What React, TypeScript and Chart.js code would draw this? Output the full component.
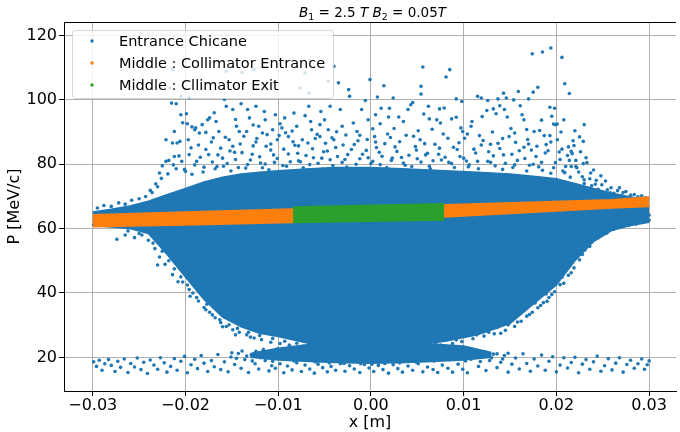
import React, { useEffect, useRef } from 'react';
import { Chart, registerables } from 'chart.js';

Chart.register(...registerables);

const FONT = "'DejaVu Sans', 'Liberation Sans', sans-serif";
const BLUE = '#1f77b4';
const ORANGE = '#ff7f0e';
const GREEN = '#2ca02c';

const seriesNames = ['Entrance Chicane', 'Middle : Collimator Entrance', 'Middle : Cllimator Exit'];
const seriesColors = [BLUE, ORANGE, GREEN];
const xTicks = [-0.03, -0.02, -0.01, 0, 0.01, 0.02, 0.03];
const yTicks = [20, 40, 60, 80, 100, 120];
const xLabel = 'x [m]';
const yLabel = 'P [MeV/c]';
// title pieces: text, style (i = italic math, s = subscript, n = normal)
const titleParts: [string, string][] = [
  ['B', 'i'], ['1', 's'], [' = 2.5 ', 'n'], ['T', 'i'], [' ', 'n'],
  ['B', 'i'], ['2', 's'], [' = 0.05', 'n'], ['T', 'i'],
];

// Entrance Chicane: dense core (upper / lower envelope of the solid cloud)
const coreX = [-0.030, -0.028, -0.026, -0.024, -0.022, -0.020, -0.018, -0.016, -0.014, -0.012, -0.010, -0.007, -0.004, 0.000, 0.004, 0.008, 0.0115, 0.015, 0.0175, 0.020, 0.022, 0.024, 0.026, 0.028, 0.030];
const coreTop = [65.2, 66.0, 67.0, 68.5, 70.5, 72.5, 74.5, 76.0, 77.0, 77.5, 78.0, 78.5, 79.0, 79.0, 78.5, 78.0, 77.5, 77.0, 76.3, 75.5, 74.0, 72.5, 71.0, 69.8, 69.0];
const coreBottom = [61.0, 60.5, 60.0, 58.5, 52.0, 45.0, 38.0, 32.5, 29.5, 27.5, 26.5, 24.5, 23.0, 22.5, 23.5, 25.0, 27.0, 30.5, 36.5, 42.5, 50.0, 56.0, 59.5, 61.0, 62.0];

// Entrance Chicane: dense part of the low-momentum band
const lowX = [-0.013, -0.010, -0.006, -0.003, 0, 0.003, 0.006, 0.010, 0.013];
const lowTop = [21.2, 22.8, 24.2, 23.8, 23.5, 23.8, 24.2, 23.5, 21.5];
const lowBottom = [20.0, 19.2, 18.6, 18.3, 18.2, 18.3, 18.6, 19.2, 20.0];

// Entrance Chicane: sparse points above the core
const chicaneHigh: [number, number][] = [
  [-0.0214, 109.4], [-0.0217, 103.7], [-0.0205, 101.1], [-0.0196, 100.6], [-0.0156, 108.9], [-0.0139, 108.6], [-0.0126, 109.4], [-0.0076, 103.7], [-0.0067, 102.1], [-0.0046, 105.8], [-0.0040, 110.4], [-0.0035, 105.3], [-0.0071, 108.4],
  [-0.0215, 99.0], [-0.0210, 98.8], [-0.0221, 87.6], [-0.0214, 86.6], [-0.0205, 95.4], [-0.0199, 95.7], [-0.0198, 92.6], [-0.0193, 91.6], [-0.0189, 91.3], [-0.0185, 89.7], [-0.0174, 94.4], [-0.0167, 93.3], [-0.0164, 90.2], [-0.0158, 100.1], [-0.0156, 98.0], [-0.0149, 97.0], [-0.0140, 98.8], [-0.0133, 97.0], [-0.0134, 90.2], [-0.0124, 98.0], [-0.0115, 96.4], [-0.0114, 93.8], [-0.0103, 95.4], [-0.0093, 94.4], [-0.0083, 95.9], [-0.0067, 98.0], [-0.0054, 96.4], [-0.0044, 98.0], [-0.0065, 93.3], [-0.0055, 88.6],
  [-0.0001, 106.3], [-0.0024, 103.2], [-0.0023, 101.1], [-0.0006, 99.8],
  [-0.0212, 90.2], [-0.0209, 86.6], [-0.0206, 87.1], [-0.0197, 87.6], [-0.0190, 90.7], [-0.0182, 92.3], [-0.0176, 93.8], [-0.0162, 85.0], [-0.0153, 87.6], [-0.0145, 91.8], [-0.0142, 90.2], [-0.0131, 94.4], [-0.0121, 91.8], [-0.0117, 89.7], [-0.0112, 89.2], [-0.0106, 90.7], [-0.0101, 87.6], [-0.0096, 91.3], [-0.0089, 88.6], [-0.0080, 91.8], [-0.0074, 87.6], [-0.0064, 90.7], [-0.0055, 92.3], [-0.0046, 90.7], [-0.0040, 87.6], [-0.0033, 97.0], [-0.0031, 91.8], [-0.0019, 92.8], [-0.0010, 97.0], [-0.0003, 93.8],
  [0.0014, 104.4], [0.0007, 100.9], [0.0024, 100.6], [0.0056, 110.2], [0.0054, 104.2], [0.0054, 101.8], [0.0081, 107.1], [0.0085, 109.4], [0.0092, 100.3], [0.0098, 99.5], [0.0115, 101.1], [0.0119, 100.6], [0.0126, 99.8], [0.0137, 100.3], [0.0143, 102.1], [0.0146, 100.6], [0.0154, 100.0], [0.0159, 102.6], [0.0170, 100.3], [0.0175, 102.4], [0.0180, 103.9], [0.0174, 114.3], [0.0185, 114.9], [0.0194, 116.1], [0.0206, 113.2], [0.0209, 105.0], [0.0214, 102.0], [0.0193, 97.7], [0.0198, 97.4], [0.0199, 92.3], [0.0208, 93.8], [0.0230, 92.3], [0.0220, 90.4], [0.0216, 84.0], [0.0221, 81.2],
  [0.0002, 91.0], [0.0004, 88.6], [0.0011, 97.4], [0.0020, 97.4], [0.0005, 95.4], [0.0019, 94.7], [0.0030, 94.7], [0.0040, 97.0], [0.0045, 99.2], [0.0043, 98.5], [0.0062, 98.0], [0.0074, 97.2], [0.0079, 97.5], [0.0063, 94.1], [0.0071, 93.8], [0.0075, 92.8], [0.0066, 90.9], [0.0092, 94.6], [0.0097, 91.3], [0.0099, 90.2], [0.0109, 93.3], [0.0108, 91.8], [0.0125, 96.7], [0.0132, 97.2], [0.0135, 95.7], [0.0139, 98.2], [0.0144, 97.0], [0.0147, 94.7], [0.0151, 91.1], [0.0161, 98.2], [0.0163, 95.4], [0.0165, 93.8], [0.0170, 86.3], [0.0176, 90.2], [0.0182, 90.5], [0.0187, 88.9], [0.0195, 94.9], [0.0197, 92.5], [0.0201, 92.5], [0.0201, 87.6], [0.0193, 88.9], [0.0213, 85.4], [0.0225, 88.5], [0.0229, 87.1], [0.0221, 79.3], [0.0216, 79.3],
  [-0.0238, 71.9], [-0.0232, 73.9], [-0.0221, 80.9], [-0.0212, 82.4], [-0.0228, 77.3],
  [-0.0203, 92.9], [-0.0178, 89.9], [-0.0169, 96.0], [-0.0146, 93.9], [-0.0127, 92.2], [-0.0098, 92.6], [-0.0085, 90.3], [-0.0071, 95.1], [-0.0050, 93.8], [-0.0037, 90.1], [-0.0012, 89.0], [0.0010, 92.6], [0.0025, 91.1], [0.0035, 93.3], [0.0051, 90.4], [0.0057, 95.6], [0.0087, 94.1], [0.0104, 89.4], [0.0120, 94.8], [0.0131, 90.0], [0.0155, 89.7], [0.0168, 90.8], [0.0184, 93.7], [0.0205, 90.0], [0.0218, 87.3],
];

// Entrance Chicane: moderately dense points just above the core
const chicaneMid: [number, number][] = [
  [-0.0225, 79.5], [-0.0218, 81.2], [-0.0210, 78.6], [-0.0204, 80.9], [-0.0196, 83.0], [-0.0190, 79.8], [-0.0184, 82.2], [-0.0178, 84.6], [-0.0171, 80.7], [-0.0165, 82.9], [-0.0159, 79.4], [-0.0152, 84.1], [-0.0146, 81.5], [-0.0139, 83.6], [-0.0133, 79.9], [-0.0127, 85.7], [-0.0120, 82.3], [-0.0114, 80.1], [-0.0108, 84.4], [-0.0101, 81.8], [-0.0095, 79.6], [-0.0089, 83.2], [-0.0082, 85.9], [-0.0076, 80.8], [-0.0070, 82.7], [-0.0063, 84.8], [-0.0057, 80.3], [-0.0051, 83.9], [-0.0044, 81.4], [-0.0038, 85.2], [-0.0031, 80.6], [-0.0025, 83.0], [-0.0018, 86.1], [-0.0012, 81.7], [-0.0005, 84.3], [0.0002, 80.9], [0.0009, 83.7], [0.0015, 86.4], [0.0022, 81.2], [0.0028, 84.0], [0.0035, 80.4], [0.0041, 82.8], [0.0048, 85.5], [0.0054, 80.7], [0.0061, 83.4], [0.0067, 81.1], [0.0074, 85.0], [0.0080, 82.2], [0.0087, 80.2], [0.0093, 84.6], [0.0100, 81.9], [0.0106, 79.8], [0.0113, 83.5], [0.0119, 86.0], [0.0126, 80.9], [0.0132, 82.6], [0.0139, 84.9], [0.0145, 80.3], [0.0152, 83.1], [0.0158, 81.2], [0.0165, 85.3], [0.0171, 79.7], [0.0178, 82.4], [0.0184, 80.6], [0.0191, 84.2], [0.0197, 78.9], [0.0204, 81.5], [0.0210, 79.3], [0.0217, 83.3], [0.0224, 77.6], [0.0229, 80.2], [0.0236, 75.5], [0.0242, 73.8], [0.0248, 76.4], [0.0255, 72.1], [0.0262, 71.0], [0.0270, 70.3],
  [-0.0186, 86.0], [-0.0170, 88.2], [-0.0149, 85.6], [-0.0137, 88.7], [-0.0124, 86.9], [-0.0108, 86.3], [-0.0092, 89.8], [-0.0078, 85.7], [-0.0060, 88.0], [-0.0049, 86.5], [-0.0027, 89.1], [-0.0014, 87.3], [0.0006, 85.2], [0.0018, 89.4], [0.0031, 87.0], [0.0046, 88.7], [0.0058, 86.4], [0.0083, 88.1], [0.0095, 86.7], [0.0117, 88.9], [0.0129, 86.2], [0.0142, 88.0], [0.0156, 86.8], [0.0173, 84.4], [0.0189, 86.1], [0.0206, 84.7], [0.0212, 82.7], [0.0226, 83.9], [0.0233, 80.5], [0.0240, 78.2],
  [-0.0200, 77.8], [-0.0193, 76.9], [-0.0180, 79.1], [-0.0168, 78.6], [-0.0155, 80.2], [-0.0143, 79.0], [-0.0130, 81.3], [-0.0117, 78.9], [-0.0104, 80.6], [-0.0091, 79.4], [-0.0078, 81.1], [-0.0066, 79.9], [-0.0053, 81.9], [-0.0041, 79.6], [-0.0028, 81.5], [-0.0016, 80.0], [-0.0003, 82.0], [0.0010, 79.9], [0.0023, 81.9], [0.0037, 79.7], [0.0050, 81.7], [0.0063, 79.4], [0.0076, 81.3], [0.0090, 79.0], [0.0103, 81.0], [0.0116, 78.6], [0.0129, 80.6], [0.0142, 78.4], [0.0155, 79.8], [0.0168, 77.9], [0.0181, 79.2], [0.0194, 77.2], [0.0207, 77.9], [0.0215, 76.0], [0.0230, 74.0], [0.0245, 72.2], [0.0258, 71.1],
  [-0.0219, 77.0], [-0.0213, 79.8], [-0.0207, 82.6], [-0.0201, 78.4], [-0.0194, 85.1], [-0.0188, 80.9], [-0.0181, 77.6], [-0.0175, 83.0], [-0.0172, 86.9], [-0.0166, 79.3], [-0.0160, 81.9], [-0.0157, 88.4], [-0.0151, 77.9], [-0.0147, 83.7], [-0.0141, 86.3], [-0.0135, 78.8], [-0.0128, 83.1], [-0.0123, 88.0], [-0.0119, 80.4], [-0.0113, 85.6], [-0.0110, 78.3], [-0.0105, 82.9], [-0.0099, 88.9], [-0.0094, 84.7], [-0.0087, 80.8], [-0.0084, 87.0], [-0.0079, 83.4], [-0.0073, 78.9], [-0.0068, 86.6], [-0.0062, 82.0], [-0.0058, 89.3], [-0.0052, 78.5], [-0.0047, 84.1], [-0.0042, 88.2], [-0.0036, 82.4], [-0.0030, 86.0], [-0.0026, 79.1], [-0.0021, 84.6], [-0.0015, 90.2], [-0.0009, 83.1], [-0.0004, 87.7], [0.0000, 80.2], [0.0005, 86.9], [0.0012, 82.5], [0.0017, 79.0], [0.0021, 88.3], [0.0026, 85.4], [0.0033, 82.1], [0.0038, 89.0], [0.0044, 79.3], [0.0049, 84.4], [0.0053, 87.6], [0.0059, 82.9], [0.0064, 78.6], [0.0069, 86.2], [0.0073, 83.1], [0.0078, 89.4], [0.0084, 80.6], [0.0089, 85.3], [0.0096, 82.4], [0.0101, 88.1], [0.0105, 79.2], [0.0111, 84.7], [0.0115, 80.9], [0.0121, 87.4], [0.0127, 83.9], [0.0134, 79.5], [0.0137, 86.5], [0.0143, 82.9], [0.0149, 88.6], [0.0153, 79.0], [0.0160, 84.2], [0.0166, 81.8], [0.0169, 87.7], [0.0175, 80.0], [0.0179, 85.6], [0.0185, 78.1], [0.0188, 83.5], [0.0194, 86.9], [0.0199, 80.5], [0.0203, 83.8], [0.0209, 77.4], [0.0214, 81.2], [0.0219, 85.8], [0.0222, 78.9], [0.0228, 76.1], [0.0232, 82.0], [0.0237, 77.3], [0.0243, 75.0], [0.0249, 73.6], [0.0253, 74.8], [0.0259, 72.7], [0.0266, 71.8], [0.0272, 71.2], [0.0280, 70.4], [0.0288, 69.9], [0.0296, 69.6],
];

// Entrance Chicane: points along the edges of the core
const chicaneEdge: [number, number][] = [
  [-0.0299, 61.2], [-0.0274, 56.7], [-0.0230, 48.7], [-0.0265, 58.0], [-0.0250, 58.5], [-0.0235, 55.5], [-0.0225, 53.0], [-0.0218, 50.0], [-0.0212, 47.5], [-0.0205, 45.0], [-0.0198, 42.5], [-0.0192, 40.0], [-0.0186, 37.5], [-0.0180, 35.5], [-0.0174, 34.0], [-0.0168, 32.3], [-0.0162, 30.8], [-0.0156, 29.6], [-0.0149, 28.6], [-0.0142, 27.8], [-0.0134, 27.0], [-0.0126, 26.0], [-0.0118, 25.5], [-0.0108, 24.7], [-0.0098, 24.3], [-0.0088, 23.8], [-0.0078, 23.1], [-0.0070, 22.8],
  [-0.0208, 43.5], [-0.0195, 39.0], [-0.0178, 34.8], [-0.0160, 29.5], [-0.0146, 27.0], [-0.0130, 26.3],
  [-0.0262, 59.3], [-0.0255, 57.2], [-0.0247, 58.0], [-0.0240, 56.4], [-0.0233, 53.8], [-0.0228, 51.2], [-0.0222, 48.9], [-0.0216, 52.5], [-0.0214, 45.7], [-0.0210, 49.6], [-0.0203, 43.4], [-0.0201, 47.1], [-0.0196, 41.1], [-0.0190, 44.0], [-0.0188, 38.6], [-0.0183, 41.5], [-0.0177, 36.5], [-0.0176, 39.9], [-0.0171, 33.2], [-0.0165, 35.8], [-0.0163, 31.7], [-0.0158, 33.9], [-0.0153, 30.1], [-0.0150, 32.4], [-0.0144, 29.0], [-0.0138, 30.7], [-0.0132, 27.8], [-0.0127, 29.4], [-0.0120, 26.8], [-0.0114, 28.3], [-0.0106, 25.9], [-0.0100, 27.2], [-0.0093, 25.0], [-0.0085, 26.1], [-0.0080, 24.4], [-0.0072, 25.3], [-0.0064, 23.6], [-0.0058, 24.8], [-0.0050, 23.3], [-0.0044, 24.2],
  [0.0075, 23.8], [0.0088, 24.3], [0.0098, 24.9], [0.0110, 25.8], [0.0122, 26.6], [0.0133, 27.3], [0.0145, 28.4], [0.0155, 29.6], [0.0162, 31.2], [0.0168, 32.8], [0.0174, 34.0], [0.0180, 35.4], [0.0186, 37.0], [0.0192, 38.6], [0.0198, 40.4], [0.0204, 42.6], [0.0208, 43.0], [0.0213, 45.5], [0.0219, 47.8], [0.0225, 50.3], [0.0231, 53.4], [0.0238, 55.8], [0.0245, 57.2], [0.0254, 58.6], [0.0262, 59.8], [0.0270, 60.6], [0.0278, 61.0], [0.0286, 61.4], [0.0294, 62.0], [0.0300, 62.6], [0.0300, 64.2], [0.0297, 65.1],
  [0.0140, 27.5], [0.0190, 37.4], [0.0216, 46.3], [0.0236, 54.5],
  [0.0046, 24.0], [0.0055, 23.6], [0.0063, 24.9], [0.0070, 24.3], [0.0081, 25.6], [0.0092, 25.4], [0.0102, 26.6], [0.0114, 27.0], [0.0118, 28.2], [0.0127, 27.8], [0.0136, 29.3], [0.0148, 30.1], [0.0151, 32.0], [0.0158, 31.0], [0.0165, 34.6], [0.0171, 33.3], [0.0177, 36.9], [0.0183, 36.1], [0.0189, 39.7], [0.0195, 39.5], [0.0201, 43.8], [0.0206, 44.9], [0.0211, 48.0], [0.0217, 49.6], [0.0222, 52.4], [0.0228, 52.0], [0.0233, 55.9], [0.0240, 57.6], [0.0249, 59.4], [0.0257, 60.3], [0.0265, 61.2], [0.0274, 61.8], [0.0283, 62.3], [0.0290, 63.3], [0.0296, 63.9],
  [-0.0295, 66.4], [-0.0288, 67.2], [-0.0280, 66.9], [-0.0272, 68.0], [-0.0265, 67.6], [-0.0258, 68.8], [-0.0250, 69.3], [-0.0243, 70.0], [-0.0236, 71.2], [-0.0230, 73.0], [-0.0226, 75.6],
  [0.0268, 72.7], [0.0275, 71.5], [0.0284, 70.6], [0.0292, 70.2], [0.0238, 73.3], [0.0235, 70.3], [0.0230, 75.2],
];

// Entrance Chicane: low-momentum band (P ~ 15-23 MeV/c)
const chicaneLow: [number, number][] = [
  [-0.0299, 18.6], [-0.0296, 17.2], [-0.0293, 19.1], [-0.0290, 16.0], [-0.0287, 18.0], [-0.0283, 19.3], [-0.0280, 17.5], [-0.0276, 15.6], [-0.0273, 18.8], [-0.0270, 16.9], [-0.0266, 19.5], [-0.0262, 15.3], [-0.0259, 18.1], [-0.0255, 17.0], [-0.0252, 19.8], [-0.0248, 16.2], [-0.0245, 18.5], [-0.0241, 15.0], [-0.0238, 19.2], [-0.0234, 17.6], [-0.0230, 16.3], [-0.0227, 19.9], [-0.0223, 18.3], [-0.0220, 15.4], [-0.0216, 17.2], [-0.0212, 19.6], [-0.0209, 16.0], [-0.0205, 18.8], [-0.0201, 20.3], [-0.0198, 15.2], [-0.0194, 17.7], [-0.0190, 19.4], [-0.0187, 16.5], [-0.0183, 20.6], [-0.0180, 18.2], [-0.0176, 15.6], [-0.0172, 19.0], [-0.0169, 17.1], [-0.0165, 20.9], [-0.0162, 16.2], [-0.0158, 18.6], [-0.0154, 15.5], [-0.0151, 20.1], [-0.0147, 17.8], [-0.0143, 21.2], [-0.0140, 16.6], [-0.0136, 19.3], [-0.0132, 15.3], [-0.0129, 20.7], [-0.0125, 18.0], [-0.0121, 16.4], [-0.0118, 21.5], [-0.0114, 19.0], [-0.0110, 15.8], [-0.0107, 17.4],
  [-0.0103, 16.6], [-0.0098, 18.0], [-0.0094, 15.2], [-0.0090, 17.3], [-0.0085, 16.1], [-0.0080, 18.3], [-0.0075, 15.6], [-0.0071, 17.6], [-0.0066, 16.4], [-0.0061, 15.1], [-0.0057, 17.9], [-0.0052, 16.8], [-0.0047, 15.5], [-0.0043, 17.2], [-0.0038, 16.0], [-0.0033, 18.0], [-0.0028, 15.7], [-0.0023, 17.4], [-0.0018, 16.4], [-0.0012, 15.3], [-0.0007, 17.8], [-0.0002, 16.7], [0.0003, 15.6], [0.0008, 17.5], [0.0013, 16.2], [0.0019, 15.1], [0.0024, 17.7], [0.0029, 16.5], [0.0034, 15.4], [0.0040, 17.3], [0.0045, 16.0], [0.0051, 18.0], [0.0056, 15.5], [0.0061, 17.0], [0.0067, 16.2], [0.0072, 15.3], [0.0077, 17.6], [0.0083, 16.6], [0.0088, 15.4], [0.0094, 17.9], [0.0099, 16.3], [0.0104, 15.2],
  [0.0108, 19.4], [0.0112, 21.6], [0.0116, 17.2], [0.0120, 20.5], [0.0124, 15.9], [0.0128, 19.0], [0.0132, 21.0], [0.0136, 16.8], [0.0140, 18.5], [0.0144, 20.6], [0.0148, 15.4], [0.0152, 17.9], [0.0156, 19.8], [0.0160, 16.4], [0.0164, 21.1], [0.0168, 18.1], [0.0172, 15.7], [0.0176, 19.5], [0.0180, 17.3], [0.0184, 20.7], [0.0188, 16.0], [0.0192, 18.8], [0.0196, 20.2], [0.0200, 15.5], [0.0204, 17.6], [0.0208, 19.9], [0.0212, 16.7], [0.0216, 18.4], [0.0220, 20.0], [0.0224, 15.2], [0.0228, 17.9], [0.0232, 19.3], [0.0236, 16.3], [0.0240, 18.6], [0.0244, 20.4], [0.0248, 15.7], [0.0252, 17.4], [0.0256, 19.6], [0.0260, 16.1], [0.0264, 18.2], [0.0268, 19.9], [0.0272, 15.4], [0.0276, 17.8], [0.0280, 19.1], [0.0284, 16.6], [0.0288, 18.0], [0.0292, 19.5], [0.0295, 16.3], [0.0298, 17.7], [0.0300, 18.9],
  [-0.0150, 21.4], [-0.0145, 19.7], [-0.0139, 22.0], [-0.0134, 20.4], [-0.0128, 18.9], [-0.0124, 21.9], [-0.0119, 19.9], [-0.0116, 22.4], [-0.0111, 20.7], [-0.0106, 18.8], [-0.0101, 22.7], [-0.0096, 21.2], [-0.0093, 19.6], [-0.0087, 23.2], [-0.0083, 18.9], [-0.0078, 21.8], [-0.0073, 23.4], [-0.0069, 19.2], [-0.0064, 22.5], [-0.0060, 18.6], [-0.0055, 23.7], [-0.0049, 20.4], [-0.0045, 18.3], [-0.0040, 23.8], [-0.0034, 19.4], [-0.0029, 18.1], [-0.0025, 23.9], [-0.0020, 19.0], [-0.0011, 18.0], [0.0001, 17.9], [0.0015, 18.1], [0.0024, 23.8], [0.0031, 18.3], [0.0039, 19.0], [0.0044, 23.6], [0.0049, 18.5], [0.0057, 19.6], [0.0062, 23.3], [0.0068, 18.9], [0.0075, 21.0], [0.0079, 23.0], [0.0085, 19.3], [0.0091, 22.5], [0.0096, 20.8], [0.0102, 18.9], [0.0107, 22.1], [0.0113, 20.2], [0.0118, 18.7], [0.0124, 21.6], [0.0130, 19.9], [0.0136, 21.1], [0.0142, 19.5], [0.0148, 21.3],
];

// Middle : Collimator Entrance band envelope
const orangeX = [-0.030, -0.020, -0.0085, 0.008, 0.026, 0.030];
const orangeTop = [64.3, 65.2, 66.1, 67.4, 69.0, 69.8];
const orangeBottom = [60.6, 61.1, 61.9, 63.6, 66.4, 66.9];

// Middle : Cllimator Exit band envelope
const greenX = [-0.0084, 0.0079];
const greenTop = [66.7, 67.7];
const greenBottom = [61.9, 62.7];

const toPts = (xs: number[], ys: number[]) => xs.map((x, i) => ({ x, y: ys[i] }));
const pairPts = (arr: [number, number][]) => arr.map(([x, y]) => ({ x, y }));

function band(xs: number[], top: number[], bottom: number[], color: string, order: number) {
  const common = {
    type: 'line' as const,
    borderColor: color,
    backgroundColor: color,
    borderWidth: 1.5,
    pointRadius: 0,
    tension: 0,
    order,
  };
  return [
    { ...common, data: toPts(xs, top), fill: false },
    { ...common, data: toPts(xs, bottom), fill: '-1' },
  ];
}

const overlayPlugin = {
  id: 'overlay',
  afterDraw(chart: any) {
    const ctx = chart.ctx as CanvasRenderingContext2D;
    const a = chart.chartArea;
    const size = 13.5;
    const fontFor = (s: string) =>
      s === 'i' ? `italic ${size}px ${FONT}` : s === 's' ? `${size * 0.7}px ${FONT}` : `${size}px ${FONT}`;
    ctx.save();
    let total = 0;
    const widths = titleParts.map(([t, s]) => {
      ctx.font = fontFor(s);
      const w = ctx.measureText(t).width;
      total += w;
      return w;
    });
    let x = (a.left + 681) / 2 - total / 2;
    const base = 17;
    ctx.fillStyle = '#000';
    ctx.textBaseline = 'alphabetic';
    ctx.textAlign = 'left';
    titleParts.forEach(([t, s], i) => {
      ctx.font = fontFor(s);
      ctx.fillText(t, x, s === 's' ? base + 2.5 : base);
      x += widths[i];
    });
    // top spine
    ctx.strokeStyle = '#000';
    ctx.lineWidth = 1;
    ctx.beginPath();
    ctx.moveTo(a.left, Math.round(a.top) + 0.5);
    ctx.lineTo(a.right, Math.round(a.top) + 0.5);
    ctx.stroke();
    // legend
    const lx = 72, ly = 30, lw = 261, lh = 68;
    ctx.fillStyle = 'rgba(255,255,255,0.8)';
    ctx.strokeStyle = 'rgba(204,204,204,0.8)';
    ctx.beginPath();
    (ctx as any).roundRect(lx + 0.5, ly + 0.5, lw, lh, 3);
    ctx.fill();
    ctx.stroke();
    ctx.font = `14.5px ${FONT}`;
    seriesNames.forEach((name, i) => {
      const cy = 41 + i * 22;
      ctx.fillStyle = seriesColors[i];
      ctx.beginPath();
      ctx.arc(92, cy, 1.7, 0, Math.PI * 2);
      ctx.fill();
      ctx.fillStyle = '#000';
      ctx.fillText(name, 119, cy + 5.2);
    });
    ctx.restore();
  },
};

export default function App() {
  const ref = useRef<HTMLCanvasElement>(null);
  useEffect(() => {
    document.body.style.margin = '0';
    const blueDots = [...chicaneHigh, ...chicaneMid, ...chicaneEdge, ...chicaneLow];
    const chart = new Chart(ref.current!, {
      type: 'scatter',
      data: {
        datasets: [
          ...band(coreX, coreTop, coreBottom, BLUE, 5),
          ...band(lowX, lowTop, lowBottom, BLUE, 5),
          {
            type: 'scatter',
            data: pairPts(blueDots),
            backgroundColor: BLUE,
            borderWidth: 0,
            pointRadius: 1.8,
            order: 4,
          },
          ...band(orangeX, orangeTop, orangeBottom, ORANGE, 2),
          ...band(greenX, greenTop, greenBottom, GREEN, 1),
        ] as any,
      },
      options: {
        responsive: false,
        devicePixelRatio: 1,
        animation: false,
        events: [],
        layout: { padding: { top: 22, left: 0, right: 0, bottom: 0 } },
        plugins: { legend: { display: false }, tooltip: { enabled: false }, title: { display: false } },
        scales: {
          x: {
            type: 'linear',
            min: -0.0331,
            max: 0.0329,
            afterFit: (s: any) => { s.height = 41; },
            afterBuildTicks: (s: any) => { s.ticks = xTicks.map((v) => ({ value: v })); },
            ticks: {
              autoSkip: false,
              maxRotation: 0,
              padding: 0,
              color: '#000',
              font: { family: FONT, size: 16 },
              callback: (v: any) => {
                const n = Number(v);
                if (Math.abs(n) < 1e-9) return '0.00';
                return (n < 0 ? '\u2212' : '') + Math.abs(n).toFixed(2);
              },
            },
            grid: { color: '#b0b0b0', lineWidth: 1, tickColor: '#000', tickLength: 5, tickWidth: 1, drawTicks: true },
            border: { display: true, color: '#000', width: 1 },
            title: { display: true, text: xLabel, color: '#000', font: { family: FONT, size: 16 }, padding: { top: 0, bottom: 0 } },
          },
          y: {
            type: 'linear',
            min: 9.55,
            max: 124.2,
            afterFit: (s: any) => { s.width = 64; },
            afterBuildTicks: (s: any) => { s.ticks = yTicks.map((v) => ({ value: v })); },
            ticks: { padding: 2, color: '#000', font: { family: FONT, size: 16 }, callback: (v: any) => String(v) },
            grid: { color: '#b0b0b0', lineWidth: 1, tickColor: '#000', tickLength: 5, tickWidth: 1, drawTicks: true },
            border: { display: true, color: '#000', width: 1 },
            title: { display: true, text: yLabel, color: '#000', font: { family: FONT, size: 16 }, padding: { top: 5.4, bottom: 0 } },
          },
        },
      },
      plugins: [overlayPlugin],
    } as any);
    return () => chart.destroy();
  }, []);
  return (
    <div style={{ position: 'absolute', left: 0, top: 0, width: 680, height: 432, background: '#fff' }}>
      <canvas ref={ref} width={680} height={432} style={{ display: 'block', width: 680, height: 432 }} />
    </div>
  );
}
